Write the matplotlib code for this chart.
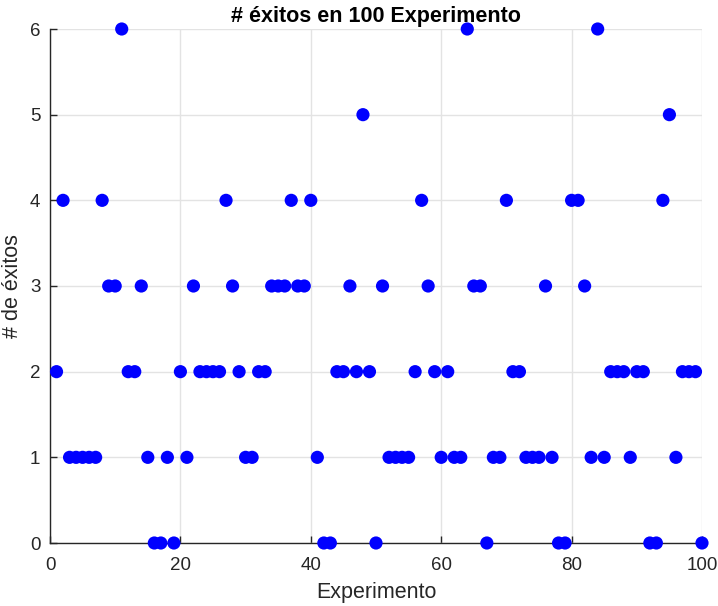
import numpy as np
import matplotlib
matplotlib.use("Agg")
import matplotlib.pyplot as plt

plt.rcParams['font.family'] = ['Liberation Sans', 'DejaVu Sans']

experimento = np.arange(1, 101)
exitos = [2, 4, 1, 1, 1, 1, 1, 4, 3, 3,
          6, 2, 2, 3, 1, 0, 0, 1, 0, 2,
          1, 3, 2, 2, 2, 2, 4, 3, 2, 1,
          1, 2, 2, 3, 3, 3, 4, 3, 3, 4,
          1, 0, 0, 2, 2, 3, 2, 5, 2, 0,
          3, 1, 1, 1, 1, 2, 4, 3, 2, 1,
          2, 1, 1, 6, 3, 3, 0, 1, 1, 4,
          2, 2, 1, 1, 1, 3, 1, 0, 0, 4,
          4, 3, 1, 6, 1, 2, 2, 2, 1, 2,
          2, 0, 0, 4, 5, 1, 2, 2, 2, 0]

fig = plt.figure(figsize=(7.18, 6.06), dpi=100)
ax = fig.add_axes([50 / 718, 63 / 606, 652 / 718, 514 / 606])

ax.scatter(experimento, exitos, s=90, c='#0000ff', edgecolors='none', zorder=3, clip_on=False)

ax.set_xlim(0, 100)
ax.set_ylim(0, 6)
ax.set_xticks([0, 20, 40, 60, 80, 100])
ax.set_yticks([0, 1, 2, 3, 4, 5, 6])

# MATLAB-like look: box off, inward ticks, light grid
ax.spines['top'].set_visible(False)
ax.spines['right'].set_visible(False)
for s in ('left', 'bottom'):
    ax.spines[s].set_color('#262626')
    ax.spines[s].set_linewidth(1.0)
ax.tick_params(direction='in', length=5, width=1, colors='#262626', labelsize=13.5)
ax.tick_params(axis='x', pad=10)
ax.tick_params(axis='y', pad=7)
ax.grid(True, color='#e3e3e3', linewidth=1)
ax.set_axisbelow(True)

ax.set_title('# éxitos en 100 Experimento', fontsize=15.5, fontweight='bold', pad=5)
ax.set_xlabel('Experimento', fontsize=15.5, color='#262626', labelpad=6)
ax.set_ylabel('# de éxitos', fontsize=15.5, color='#262626')
ax.yaxis.set_label_coords(-0.042, 0.5)

fig.savefig('out.png', dpi=100)
